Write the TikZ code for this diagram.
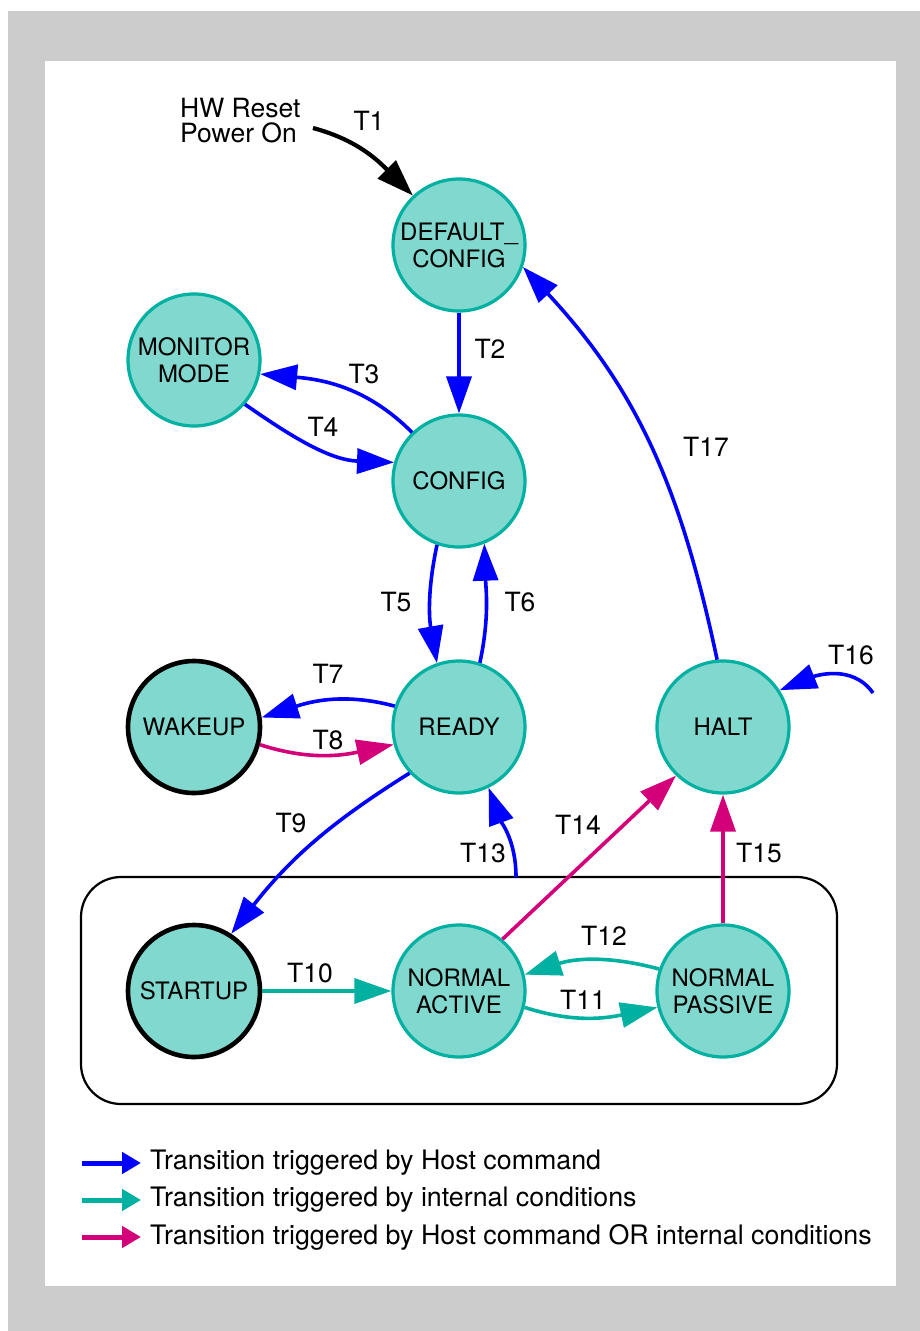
\documentclass[tikz,border=0pt]{standalone}
\usepackage{fontspec}
\setmainfont{TeX Gyre Heros}
\usetikzlibrary{arrows.meta,calc}
\definecolor{statefill}{HTML}{80D8CF}
\definecolor{statedraw}{HTML}{00B0A0}
\definecolor{hostcmd}{HTML}{0000FF}
\definecolor{internal}{HTML}{00B0A0}
\definecolor{either}{HTML}{D4007A}

\tikzset{
  state/.style={circle, draw=statedraw, fill=statefill, line width=3.2pt,
    minimum size=132pt, inner sep=0pt, align=center, font=\fontsize{24}{27}\selectfont},
  entrystate/.style={state, draw=black, line width=4.6pt},
  lbl/.style={font=\fontsize{26.5}{26}\selectfont},
  host/.style={->, draw=hostcmd, line width=3.6pt},
  intern/.style={->, draw=internal, line width=3.6pt},
  hostor/.style={->, draw=either, line width=3.6pt},
}

\begin{document}
\begin{tikzpicture}[x=1pt, y=1pt, >={Triangle[length=37pt,width=25pt]}]
    \useasboundingbox (0,0) rectangle (920,-1331);
    \fill[black!20] (8,-11) rectangle (920,-1331);
    \fill[white] (45,-61) rectangle (896,-1286);

    % Group box
    \draw[line width=2.2pt, rounded corners=40pt] (81,-877) rectangle (837,-1104);

    % States
    \node[state] (dc) at (459,-245) {DEFAULT\_\\CONFIG};
    \node[state] (mon) at (194,-360) {MONITOR\\MODE};
    \node[state] (cfg) at (459,-481) {CONFIG};
    \node[entrystate] (wake) at (194,-727) {WAKEUP};
    \node[state] (rdy) at (459,-727) {READY};
    \node[state] (halt) at (723,-727) {HALT};
    \node[entrystate] (start) at (194,-991) {STARTUP};
    \node[state] (na) at (459,-991) {NORMAL\\ACTIVE};
    \node[state] (np) at (723,-991) {NORMAL\\PASSIVE};

    % Free ends
    \node[lbl, align=left, anchor=west, inner sep=0pt] (reset) at (180,-121) {HW Reset\\[-1pt]Power On};
    \coordinate (t1s) at (313,-128);
    \coordinate (t13s) at (516,-877);
    \coordinate (t16s) at (873,-693);

    % Transitions
    \draw[->, line width=4.2pt] (t1s) to[out=-15, in=135] (dc.133);
    \draw[host] (dc.south) -- (cfg.north);
    \draw[host] (cfg.134) to[out=135, in=-5] (mon.-12);
    \draw[host] (mon.-41) to[out=-35, in=178] (cfg.164);
    \draw[host] (cfg.-109) to[out=-102, in=100] (rdy.109);
    \draw[host] (rdy.72) to[out=78, in=-88] (cfg.-68);
    \draw[host] (rdy.162) to[out=165, in=18] (wake.8);
    \draw[hostor] (wake.-15) to[out=-18, in=192] (rdy.195);
    \draw[host] (rdy.-137) to[out=-148, in=52] (start.57);
    \draw[intern] (start.east) -- (na.west);
    \draw[intern] (na.-14) to[out=-18, in=192] (np.194);
    \draw[intern] (np.161) to[out=165, in=18] (na.14);
    \draw[host] (t13s) to[out=90, in=-70] (rdy.-64);
    \draw[hostor] (na.50) -- (halt.-134);
    \draw[hostor] (np.north) -- (halt.south);
    \draw[host] (t16s) to[out=125, in=22] (halt.33);
    \draw[host] (halt.95) to[out=102, in=-47] (dc.-19);

    % Labels
    \node[lbl] (l1) at (369,-121) {T1};
    \node[lbl] (l2) at (490,-349) {T2};
    \node[lbl] (l3) at (364,-374) {T3};
    \node[lbl] (l4) at (323,-427) {T4};
    \node[lbl] (l5) at (396,-602) {T5};
    \node[lbl] (l6) at (520,-602) {T6};
    \node[lbl] (l7) at (328,-674) {T7};
    \node[lbl] (l8) at (328,-740) {T8};
    \node[lbl] (l9) at (291,-823) {T9};
    \node[lbl] (l10) at (310,-973) {T10};
    \node[lbl] (l11) at (583,-1000) {T11};
    \node[lbl] (l12) at (604,-936) {T12};
    \node[lbl] (l13) at (483,-853) {T13};
    \node[lbl] (l14) at (578,-825) {T14};
    \node[lbl] (l15) at (759,-853) {T15};
    \node[lbl] (l16) at (851,-655) {T16};
    \node[lbl] (l17) at (706,-447) {T17};

    % Legend
    \foreach \kind/\ypos/\txt in {host/1163/Host command,
        intern/1200/internal conditions,
        hostor/1237/Host command OR internal conditions} {
      \coordinate (leg\kind a) at (82,-\ypos);
      \coordinate (leg\kind b) at (141,-\ypos);
      \draw[\kind, line width=5pt, -{Triangle[length=19pt,width=21pt]}] (leg\kind a) -- (leg\kind b);
      \node[lbl, font=\fontsize{26.8}{26}\selectfont, anchor=west, inner sep=0pt] (leg\kind t) at (150,-\ypos) {Transition triggered by \txt};
    }
\end{tikzpicture}
\end{document}
